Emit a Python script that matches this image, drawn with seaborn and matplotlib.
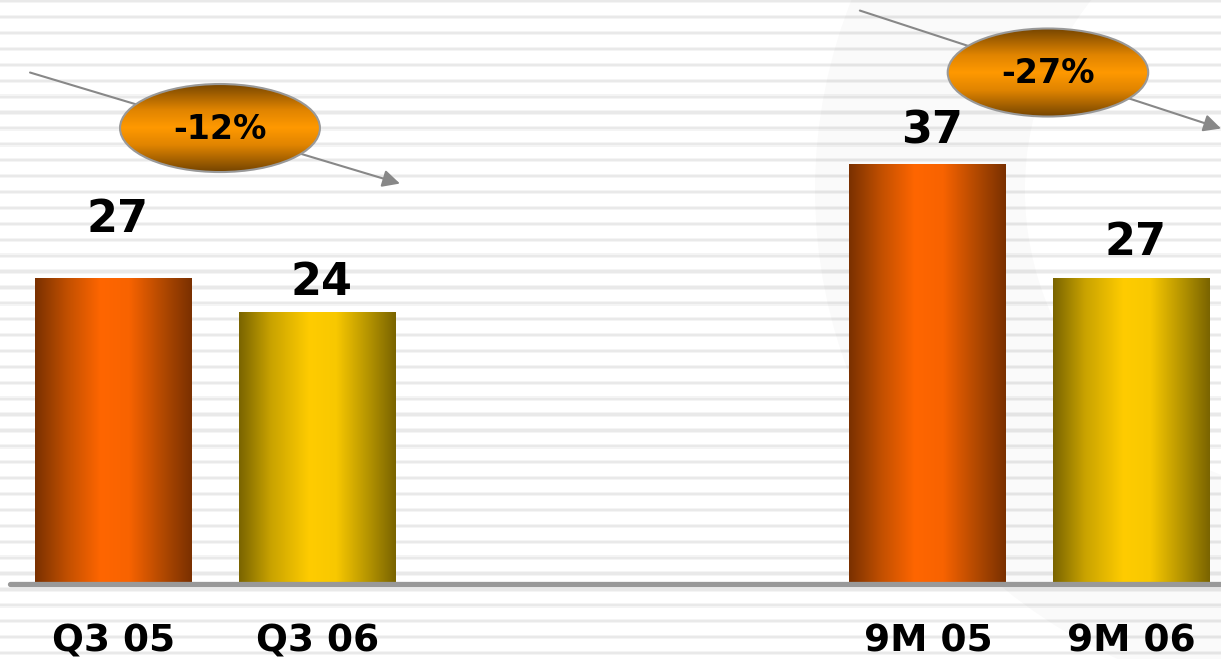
import numpy as np
import pandas as pd
import matplotlib
matplotlib.use("Agg")
import matplotlib.pyplot as plt
from matplotlib.colors import LinearSegmentedColormap
from matplotlib.patches import Ellipse, Wedge
import seaborn as sns

# ---- data ----
periods = ["Q3 05", "Q3 06", "9M 05", "9M 06"]
values = [27, 24, 37, 27]
changes = ["-12%", "-27%"]
order = ["Q3 05", "Q3 06", " ", "  ", "9M 05", "9M 06"]

sns.set_theme(style="white")
plt.rcParams["font.family"] = ["DejaVu Sans"]

W, H = 1221, 659
fig = plt.figure(figsize=(W / 100, H / 100), dpi=100)
fig.patch.set_facecolor("white")

# ---- background (stripes + faint watermark) ----
bg = fig.add_axes([0, 0, 1, 1], zorder=0)
bg.set_xlim(0, W)
bg.set_ylim(H, 0)
bg.axis("off")
y = 1.2
while y < H:
    bg.axhspan(y - 2.2, y + 2.2, color="#f4f4f4", lw=0, zorder=0)
    bg.axhspan(y - 1.1, y + 1.1, color="#e9e9e9", lw=0, zorder=0.1)
    y += 15.9
bg.add_patch(Wedge((1330, 190), 515, 0, 360, width=210,
                   facecolor="#000000", alpha=0.018, lw=0, zorder=0.2))

# ---- main axes ----
base_px = 583.5
ax = fig.add_axes([0, (H - base_px) / H, 1, base_px / H], zorder=1)
ax.patch.set_alpha(0)
df = pd.DataFrame({"period": periods, "value": values})
pal = {"Q3 05": "#ff6600", "Q3 06": "#ffcc00", "9M 05": "#ff6600", "9M 06": "#ffcc00"}
sns.barplot(data=df, x="period", y="value", hue="period", order=order,
            palette=pal, width=0.77, legend=False, ax=ax, saturation=1,
            edgecolor="none")

ppu = 11.33  # pixels per unit
xlim = (-0.5575, 5.44)
ylim = (0, base_px / ppu)

# gradient fills
cm_or = LinearSegmentedColormap.from_list(
    "or", [(0, "#7a3000"), (0.2, "#c04f00"), (0.42, "#ff6600"),
           (0.6, "#f86300"), (0.82, "#b04800"), (1, "#7a3000")])
cm_ye = LinearSegmentedColormap.from_list(
    "ye", [(0, "#7a6400"), (0.2, "#c8a200"), (0.45, "#ffcc00"),
           (0.62, "#f8c800"), (0.84, "#b09000"), (1, "#7a6400")])
grad = np.linspace(0, 1, 256).reshape(1, -1)
for p in list(ax.patches):
    if p.get_height() <= 0:
        continue
    x0, w, h = p.get_x(), p.get_width(), p.get_height()
    fc = p.get_facecolor()
    cm = cm_or if fc[1] < 0.6 else cm_ye
    im = ax.imshow(grad, cmap=cm, extent=[x0, x0 + w, 0, h],
                   aspect="auto", zorder=2)
    im.set_clip_path(p)

# value labels
offs = [33, 12, 15, 16]
bars = [p for p in ax.patches if p.get_height() > 0]
bars.sort(key=lambda b: b.get_x())
for b, v, o in zip(bars, values, offs):
    ax.annotate(str(v), (b.get_x() + b.get_width() / 2, v),
                xytext=(3, o), textcoords="offset points", ha="center",
                va="baseline", fontsize=32, fontweight="bold", color="black",
                zorder=5)

# baseline
ax.axhline(0, xmin=10 / W, xmax=1, color="#999999", lw=3.8,
           solid_capstyle="round", zorder=3, clip_on=False)

# change arrows + ellipses
arrows = [((-0.41, 45.1), (1.407, 35.3)), ((3.666, 50.57), (5.44, 40.16))]
ell = [((0.523, 40.2), 0.982, 7.77), ((4.59, 45.1), 0.985, 7.77)]
cm_el = LinearSegmentedColormap.from_list(
    "el", [(0, "#744400"), (0.3, "#e08400"), (0.5, "#ff9900"),
           (0.7, "#e08400"), (1, "#744400")])
vgrad = np.linspace(0, 1, 256).reshape(-1, 1)
for (s, e), (c, ew, eh), txt in zip(arrows, ell, changes):
    ax.annotate("", xy=e, xytext=s,
                arrowprops=dict(arrowstyle="-|>", color="#888888", lw=1.5,
                                mutation_scale=26, shrinkA=0, shrinkB=0),
                zorder=3, annotation_clip=False)
    el = Ellipse(c, ew, eh, facecolor="none", edgecolor="#999999",
                 lw=1.5, zorder=4.5)
    ax.add_patch(el)
    imel = ax.imshow(vgrad, cmap=cm_el,
                     extent=[c[0] - ew / 2, c[0] + ew / 2, c[1] - eh / 2, c[1] + eh / 2],
                     aspect="auto", zorder=4)
    imel.set_clip_path(el)
    ax.text(c[0], c[1] - 0.1, txt, ha="center", va="center", fontsize=24,
            fontweight="bold", color="black", zorder=5)

ax.set_xlim(*xlim)
ax.set_ylim(*ylim)
ax.set_xlabel("")
ax.set_ylabel("")
ax.set_yticks([])
ax.set_xticks([0, 1, 4, 5])
ax.set_xticklabels(periods, fontsize=27, fontweight="bold", color="black")
ax.tick_params(axis="x", length=0, pad=29)
for sp in ax.spines.values():
    sp.set_visible(False)

fig.savefig("out.png", dpi=100)
